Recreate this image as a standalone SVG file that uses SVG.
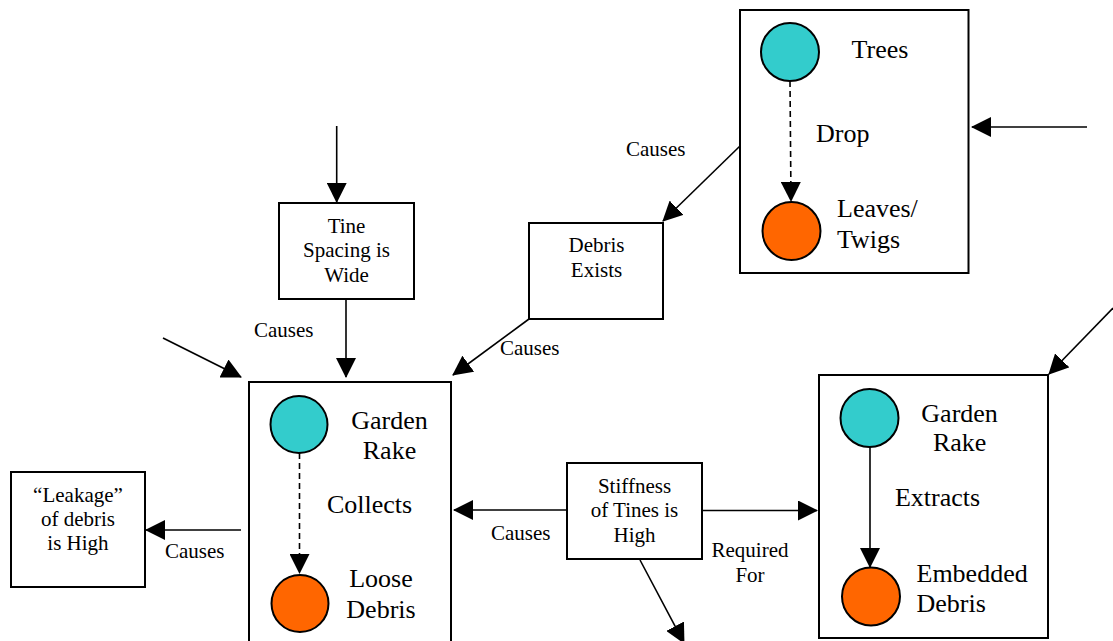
<svg xmlns="http://www.w3.org/2000/svg" width="1113" height="641" viewBox="0 0 1113 641">
<style>
.box{fill:#fff;stroke:#000;stroke-width:2}
.c1{fill:#33CCCC;stroke:#000;stroke-width:2}
.c2{fill:#FF6600;stroke:#000;stroke-width:2}
.ln{fill:none;stroke:#000;stroke-width:1.6;marker-end:url(#ah)}
.dash{stroke-dasharray:6 4}
.big{font-size:26px;fill:#000}
.sm{font-size:21px;fill:#000}
.mid{text-anchor:middle}
</style>
<defs>
<marker id="ah" markerUnits="userSpaceOnUse" markerWidth="20" markerHeight="20" viewBox="0 0 20 20" refX="19" refY="10" orient="auto">
<path d="M0,0 L20,10 L0,20 z" fill="#000"/>
</marker>
</defs>
<rect width="1113" height="641" fill="#fff"/>
<g font-family="Liberation Serif, DejaVu Serif, serif">

<g id="trees-node">
<rect class="box" x="740" y="10" width="228.5" height="263"/>
<line class="ln dash" x1="790" y1="81" x2="791" y2="201"/>
<circle class="c1" cx="790" cy="52" r="29"/>
<circle class="c2" cx="791.5" cy="231" r="29"/>
<text class="big mid" x="880" y="58">Trees</text>
<text class="big" x="816" y="142">Drop</text>
<text class="big" x="837" y="217">Leaves/</text>
<text class="big" x="837" y="248">Twigs</text>
</g>

<g id="tine-node">
<rect class="box" x="279" y="203" width="135" height="96"/>
<text class="sm mid" x="346.5" y="233">Tine</text>
<text class="sm mid" x="346.5" y="257">Spacing is</text>
<text class="sm mid" x="346.5" y="282">Wide</text>
</g>

<g id="debris-node">
<rect class="box" x="529" y="223" width="134" height="96"/>
<text class="sm mid" x="596.5" y="252">Debris</text>
<text class="sm mid" x="596.5" y="277">Exists</text>
</g>

<g id="rake-collects-node">
<rect class="box" x="249" y="382" width="202" height="270"/>
<line class="ln dash" x1="299.5" y1="453" x2="299.5" y2="573"/>
<circle class="c1" cx="299" cy="424.5" r="28.5"/>
<circle class="c2" cx="300" cy="603.5" r="28.5"/>
<text class="big mid" x="389.5" y="429">Garden</text>
<text class="big mid" x="389.5" y="459">Rake</text>
<text class="big mid" x="369.6" y="513">Collects</text>
<text class="big mid" x="381" y="587">Loose</text>
<text class="big mid" x="381" y="618">Debris</text>
</g>

<g id="leakage-node">
<rect class="box" x="11" y="472" width="134" height="115"/>
<text class="sm mid" x="78" y="502">“Leakage”</text>
<text class="sm mid" x="78" y="526">of debris</text>
<text class="sm mid" x="78" y="550">is High</text>
</g>

<g id="stiffness-node">
<rect class="box" x="567" y="463" width="135" height="96"/>
<text class="sm mid" x="634.5" y="493">Stiffness</text>
<text class="sm mid" x="634.5" y="517">of Tines is</text>
<text class="sm mid" x="634.5" y="542">High</text>
</g>

<g id="rake-extracts-node">
<rect class="box" x="819" y="375" width="229" height="263"/>
<line class="ln" x1="870" y1="447" x2="870" y2="567"/>
<circle class="c1" cx="869.5" cy="418" r="29"/>
<circle class="c2" cx="871" cy="596.5" r="29"/>
<text class="big mid" x="959.6" y="422">Garden</text>
<text class="big mid" x="959.6" y="451">Rake</text>
<text class="big mid" x="937.5" y="506">Extracts</text>
<text class="big" x="916.5" y="582">Embedded</text>
<text class="big" x="916.5" y="612">Debris</text>
</g>

<g id="connectors">
<line class="ln" x1="336.7" y1="126" x2="336.7" y2="202"/>
<line class="ln" x1="346" y1="299" x2="346" y2="377"/>
<line class="ln" x1="163" y1="338" x2="241" y2="377"/>
<line class="ln" x1="529" y1="319" x2="453" y2="375"/>
<line class="ln" x1="740" y1="146" x2="663" y2="221"/>
<line class="ln" x1="1087" y1="127" x2="972" y2="127"/>
<line class="ln" x1="1113" y1="308" x2="1049" y2="374"/>
<line class="ln" x1="567" y1="510" x2="454" y2="510"/>
<line class="ln" x1="702" y1="510.5" x2="817" y2="510.5"/>
<line class="ln" x1="241" y1="530" x2="146" y2="530"/>
<line class="ln" x1="640" y1="560" x2="684" y2="643"/>
<text class="sm" x="626" y="156">Causes</text>
<text class="sm" x="254" y="337">Causes</text>
<text class="sm" x="500" y="355">Causes</text>
<text class="sm" x="165" y="558">Causes</text>
<text class="sm" x="491" y="540">Causes</text>
<text class="sm mid" x="750" y="557">Required</text>
<text class="sm mid" x="750" y="582">For</text>
</g>
</g>
</svg>
